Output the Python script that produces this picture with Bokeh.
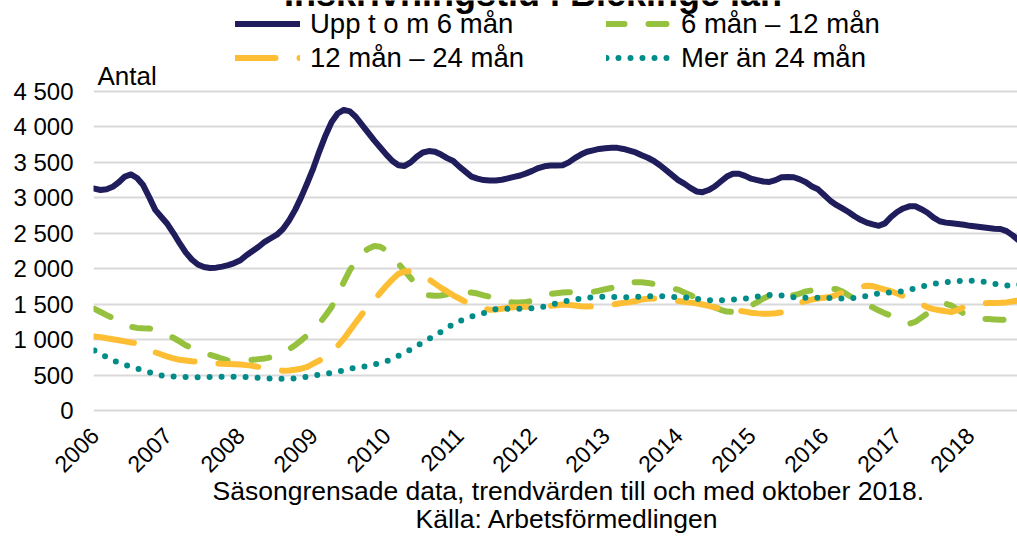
from bokeh.plotting import figure
from bokeh.models import Range1d, FixedTicker, Legend, LegendItem, Label, Title
from bokeh.embed import file_html
from bokeh.resources import INLINE

# ---------------- data ----------------
title_text = "Inskrivningstid i Blekinge län"
y_label = "Antal"
caption_1 = "Säsongrensade data, trendvärden till och med oktober 2018."
caption_2 = "Källa: Arbetsförmedlingen"

years = [2006, 2007, 2008, 2009, 2010, 2011, 2012, 2013, 2014, 2015, 2016, 2017, 2018]
months = list(range(154))  # jan 2006 .. okt 2018 (month index)

series_names = ["Upp t o m 6 mån", "6 mån – 12 mån", "12 mån – 24 mån", "Mer än 24 mån"]

upp_6 = [3130, 3110, 3120, 3155, 3220, 3300, 3330, 3280, 3180, 3010,
         2830, 2730, 2630, 2500, 2360, 2230, 2130, 2060, 2025, 2010,
         2015, 2030, 2050, 2080, 2120, 2190, 2250, 2310, 2380, 2430,
         2480, 2560, 2680, 2830, 3010, 3210, 3420, 3660, 3880, 4070,
         4190, 4240, 4220, 4140, 4030, 3920, 3810, 3710, 3610, 3520,
         3460, 3450, 3500, 3580, 3640, 3660, 3650, 3610, 3560, 3520,
         3440, 3370, 3300, 3270, 3250, 3245, 3245, 3255, 3275, 3295,
         3315, 3345, 3380, 3420, 3445, 3455, 3455, 3460, 3500, 3560,
         3610, 3650, 3670, 3690, 3700, 3705, 3705, 3690, 3665, 3640,
         3600, 3565, 3520, 3460, 3390, 3320, 3250, 3200, 3140, 3090,
         3080, 3110, 3160, 3230, 3300, 3340, 3340, 3310, 3270, 3250,
         3230, 3225, 3250, 3290, 3295, 3290, 3260, 3220, 3160, 3120,
         3040, 2960, 2900, 2850, 2800, 2740, 2690, 2650, 2625, 2605,
         2640, 2730, 2800, 2850, 2880, 2880, 2840, 2790, 2720, 2670,
         2650, 2640, 2630, 2620, 2605, 2595, 2585, 2575, 2565, 2560,
         2530, 2470, 2400, 2340]

man_6_12 = [1434, 1390, 1345, 1305, 1260, 1220, 1180, 1165, 1160, 1157,
            1140, 1100, 1060, 1025, 975, 920, 880, 845, 810, 785,
            760, 730, 705, 700, 700, 705, 715, 725, 735, 750,
            770, 810, 865, 920, 990, 1060, 1140, 1230, 1340, 1460,
            1640, 1810, 1980, 2110, 2220, 2280, 2320, 2310, 2260, 2150,
            2070, 1970, 1870, 1760, 1670, 1625, 1620, 1622, 1640, 1650,
            1660, 1668, 1665, 1650, 1625, 1605, 1580, 1555, 1530, 1525,
            1525, 1530, 1550, 1590, 1625, 1645, 1655, 1665, 1668, 1669,
            1669, 1670, 1675, 1690, 1710, 1728, 1760, 1790, 1808, 1810,
            1808, 1800, 1785, 1765, 1740, 1720, 1705, 1665, 1630, 1580,
            1530, 1490, 1455, 1420, 1395, 1390, 1410, 1445, 1480, 1530,
            1580, 1620, 1625, 1622, 1620, 1625, 1650, 1680, 1695, 1705,
            1712, 1716, 1715, 1680, 1625, 1580, 1535, 1490, 1455, 1410,
            1370, 1340, 1300, 1260, 1225, 1250, 1310, 1370, 1430, 1480,
            1505, 1480, 1420, 1365, 1335, 1310, 1295, 1290, 1285, 1280,
            1279, 1278, 1275, 1272]

man_12_24 = [1044, 1035, 1020, 1005, 990, 975, 960, 948, 910, 860,
             820, 790, 760, 735, 715, 705, 695, 688, 682, 675,
             665, 658, 655, 652, 650, 640, 630, 615, 600, 585,
             570, 562, 565, 575, 590, 615, 660, 705, 760, 830,
             910, 1010, 1130, 1245, 1360, 1465, 1560, 1660, 1760, 1850,
             1928, 1960, 1965, 1935, 1900, 1850, 1790, 1730, 1680, 1625,
             1580, 1535, 1495, 1460, 1435, 1422, 1425, 1435, 1450, 1457,
             1460, 1462, 1465, 1467, 1470, 1475, 1485, 1495, 1490, 1480,
             1470, 1467, 1470, 1475, 1480, 1490, 1505, 1518, 1528, 1545,
             1565, 1575, 1580, 1578, 1570, 1555, 1545, 1535, 1522, 1512,
             1495, 1475, 1455, 1440, 1425, 1415, 1408, 1395, 1380, 1370,
             1364, 1365, 1372, 1385, 1430, 1480, 1520, 1545, 1565, 1580,
             1592, 1600, 1630, 1665, 1700, 1725, 1745, 1760, 1755, 1730,
             1705, 1683, 1650, 1615, 1585, 1545, 1500, 1455, 1430, 1415,
             1400, 1390, 1420, 1460, 1490, 1505, 1512, 1515, 1517, 1520,
             1525, 1540, 1552, 1560]

over_24 = [845, 795, 755, 710, 673, 645, 615, 590, 565, 540,
           510, 495, 484, 478, 474, 471, 470, 470, 470, 473,
           475, 475, 475, 475, 473, 471, 468, 462, 456, 450,
           447, 447, 447, 455, 465, 475, 490, 505, 517, 530,
           545, 565, 590, 600, 612, 630, 650, 670, 695, 725,
           770, 815, 860, 910, 960, 1010, 1060, 1110, 1160, 1220,
           1260, 1295, 1326, 1350, 1373, 1400, 1429, 1432, 1434, 1434,
           1434, 1438, 1443, 1455, 1467, 1490, 1514, 1533, 1552, 1565,
           1577, 1588, 1599, 1604, 1608, 1604, 1600, 1599, 1599, 1603,
           1608, 1612, 1615, 1612, 1608, 1604, 1599, 1594, 1589, 1575,
           1561, 1556, 1552, 1556, 1561, 1566, 1571, 1580, 1589, 1605,
           1622, 1630, 1636, 1622, 1608, 1598, 1589, 1589, 1589, 1589,
           1589, 1585, 1580, 1580, 1580, 1590, 1599, 1618, 1636, 1650,
           1664, 1667, 1669, 1685, 1702, 1725, 1749, 1768, 1786, 1798,
           1810, 1817, 1824, 1829, 1834, 1827, 1819, 1803, 1786, 1775,
           1763, 1770, 1777, 1780]

y_ticks = [0, 500, 1000, 1500, 2000, 2500, 3000, 3500, 4000, 4500]
y_tick_labels = ["0", "500", "1 000", "1 500", "2 000", "2 500", "3 000", "3 500", "4 000", "4 500"]

# ---------------- layout ----------------
FONT = "Liberation Sans"
W, H = 1017, 536
BORDER_L, BORDER_B = 93, 123
FRAME_H = H - BORDER_B            # 413
PPU = 319.0 / 4500.0              # pixels per unit on y
Y_TOP = 410.0 / PPU
Y_BOT = -3.0 / PPU
X_LEFT, X_RIGHT = -0.16, 151.8

p = figure(width=W, height=H, output_backend="svg", toolbar_location=None,
           x_range=Range1d(X_LEFT, X_RIGHT), y_range=Range1d(Y_BOT, Y_TOP),
           min_border_left=BORDER_L, min_border_right=0, min_border_top=0,
           min_border_bottom=BORDER_B, title=None)
p.outline_line_color = None
p.background_fill_color = "white"

navy, green, yellow, teal = "#201d5c", "#95c13e", "#fdbe33", "#008c88"

r1 = p.line(months, upp_6, line_color=navy, line_width=6, line_cap="round", line_join="round")
r2 = p.line(months, man_6_12, line_color=green, line_width=6, line_cap="round", line_join="round",
            line_dash="18 24")
r3 = p.line(months, man_12_24, line_color=yellow, line_width=6, line_cap="round", line_join="round",
            line_dash="40 24")
r4 = p.line(months, over_24, line_color=teal, line_width=6, line_cap="round", line_join="round",
            line_dash="0 12")

# axes
p.xaxis.ticker = FixedTicker(ticks=[12 * i for i in range(len(years))])
p.xaxis.major_label_overrides = {12 * i: str(y) for i, y in enumerate(years)}
p.xaxis.major_label_orientation = 0.785398
p.xaxis.axis_line_color = None
p.xaxis.major_tick_line_color = None
p.xaxis.minor_tick_line_color = None
p.xaxis.major_tick_out = 0
p.xaxis.major_label_standoff = 18
p.xaxis.major_label_text_font = FONT
p.xaxis.major_label_text_font_size = "23px"
p.xaxis.major_label_text_color = "black"

p.yaxis.ticker = FixedTicker(ticks=y_ticks)
p.yaxis.major_label_overrides = {t: l for t, l in zip(y_ticks, y_tick_labels)}
p.yaxis.axis_line_color = None
p.yaxis.major_tick_line_color = None
p.yaxis.minor_tick_line_color = None
p.yaxis.major_tick_out = 0
p.yaxis.major_label_standoff = 20
p.yaxis.major_label_text_font = FONT
p.yaxis.major_label_text_font_size = "24px"
p.yaxis.major_label_text_color = "black"

p.xgrid.grid_line_color = None
p.ygrid.grid_line_color = "#d9d9d9"
p.ygrid.grid_line_width = 2

# legends (two columns)
leg_common = dict(orientation="vertical", glyph_width=65, glyph_height=31, label_height=31,
                  label_standoff=10, spacing=2, padding=0, margin=0,
                  border_line_color=None, background_fill_alpha=0,
                  label_text_font=FONT, label_text_font_size="27.5px", label_text_color="black")
leg1 = Legend(items=[LegendItem(label=series_names[0], renderers=[r1]),
                     LegendItem(label=series_names[2], renderers=[r3])],
              location=(142, FRAME_H - 73.5), **leg_common)
leg2 = Legend(items=[LegendItem(label=series_names[1], renderers=[r2]),
                     LegendItem(label=series_names[3], renderers=[r4])],
              location=(513, FRAME_H - 73.5), **leg_common)
p.add_layout(leg1)
p.add_layout(leg2)

# texts inside the frame
p.add_layout(Label(x=439.5, y=FRAME_H + 7.5, x_units="screen", y_units="screen", text=title_text,
                   text_align="center", text_baseline="middle", text_font=FONT,
                   text_font_size="36px", text_font_style="bold", text_color="black"))
p.add_layout(Label(x=4, y=FRAME_H - 75, x_units="screen", y_units="screen", text=y_label,
                   text_align="left", text_baseline="middle", text_font=FONT,
                   text_font_size="26px", text_color="black"))

# captions below the axis
p.add_layout(Title(text=caption_1, align="left", offset=119, vertical_align="top", standoff=-14,
                   text_font=FONT, text_font_size="26.5px", text_font_style="normal",
                   text_color="black"), "below")
p.add_layout(Title(text=caption_2, align="left", offset=322, vertical_align="bottom", standoff=2,
                   text_font=FONT, text_font_size="26.5px", text_font_style="normal",
                   text_color="black"), "below")

open("out.html", "w").write(file_html(p, INLINE))
